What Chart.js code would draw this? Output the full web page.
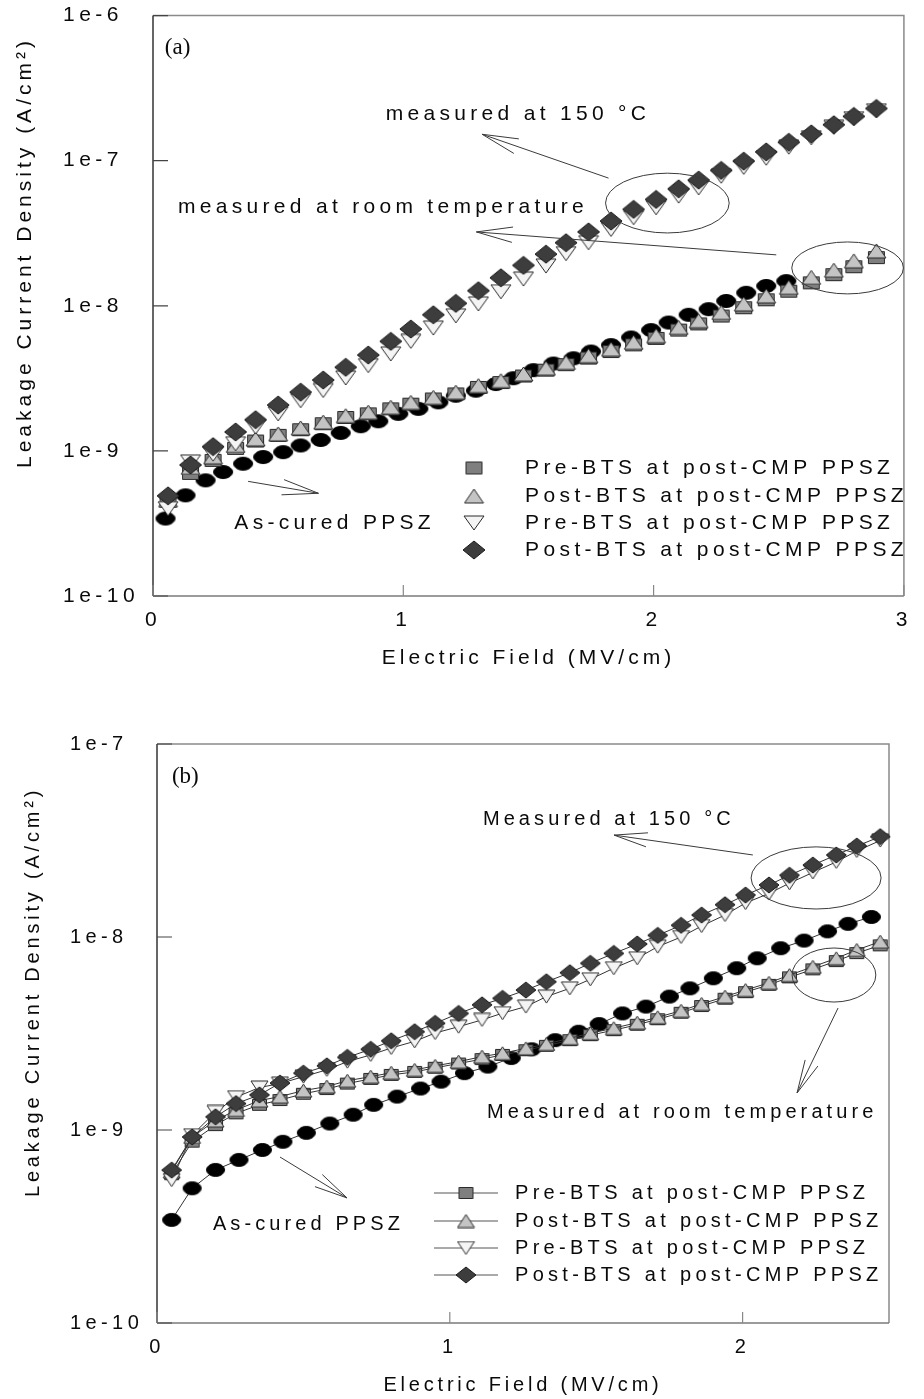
<!DOCTYPE html>
<html>
<head>
<meta charset="utf-8">
<script src="https://cdn.jsdelivr.net/npm/chart.js@4.4.1/dist/chart.umd.min.js"></script>
<style>
  html, body { margin: 0; padding: 0; background: #fff; }
  canvas { display: block; }
</style>
</head>
<body>
<canvas id="chartA" width="924" height="690"></canvas>
<canvas id="chartB" width="924" height="709"></canvas>
<script>
// ---------- panel (a): markers only ----------
const fieldA = [0.06, 0.15, 0.24, 0.33, 0.41, 0.50, 0.59, 0.68, 0.77, 0.86, 0.95, 1.03, 1.12, 1.21, 1.30, 1.39, 1.48,
                1.57, 1.65, 1.74, 1.83, 1.92, 2.01, 2.10, 2.18, 2.27, 2.36, 2.45, 2.54, 2.63, 2.72, 2.80, 2.89];
const fieldCuredA = [0.05, 0.13, 0.21, 0.28, 0.36, 0.44, 0.52, 0.59, 0.67, 0.75, 0.83, 0.90, 0.98, 1.06, 1.14, 1.21, 1.29,
                     1.37, 1.44, 1.52, 1.60, 1.68, 1.75, 1.83, 1.91, 1.99, 2.06, 2.14, 2.22, 2.29, 2.37, 2.45, 2.53];
const preRoomA = [4.5e-10, 7.0e-10, 8.6e-10, 1.04e-9, 1.17e-9, 1.28e-9, 1.40e-9, 1.54e-9, 1.70e-9, 1.80e-9, 1.95e-9,
                  2.10e-9, 2.28e-9, 2.47e-9, 2.74e-9, 2.96e-9, 3.28e-9, 3.60e-9, 3.93e-9, 4.36e-9, 4.84e-9, 5.38e-9,
                  5.96e-9, 6.8e-9, 7.5e-9, 8.5e-9, 9.7e-9, 1.10e-8, 1.26e-8, 1.44e-8, 1.64e-8, 1.86e-8, 2.15e-8];
const postRoomA = [4.6e-10, 7.7e-10, 9.1e-10, 1.09e-9, 1.21e-9, 1.31e-9, 1.44e-9, 1.58e-9, 1.75e-9, 1.85e-9, 2.0e-9,
                   2.16e-9, 2.34e-9, 2.54e-9, 2.82e-9, 3.05e-9, 3.39e-9, 3.72e-9, 4.07e-9, 4.53e-9, 5.03e-9, 5.60e-9,
                   6.22e-9, 7.1e-9, 7.89e-9, 9.0e-9, 1.03e-8, 1.17e-8, 1.34e-8, 1.57e-8, 1.76e-8, 2.04e-8, 2.39e-8];
const pre150A = [4.0e-10, 8.4e-10, 9.5e-10, 1.12e-9, 1.46e-9, 1.80e-9, 2.22e-9, 2.61e-9, 3.18e-9, 3.87e-9, 4.66e-9,
                 5.69e-9, 7.03e-9, 8.53e-9, 1.03e-8, 1.25e-8, 1.53e-8, 1.88e-8, 2.29e-8, 2.72e-8, 3.36e-8, 4.05e-8,
                 4.74e-8, 5.70e-8, 6.50e-8, 7.82e-8, 9.0e-8, 1.04e-7, 1.24e-7, 1.44e-7, 1.70e-7, 1.95e-7, 2.21e-7];
const post150A = [4.9e-10, 8.0e-10, 1.07e-9, 1.35e-9, 1.64e-9, 2.07e-9, 2.54e-9, 3.08e-9, 3.77e-9, 4.58e-9, 5.69e-9,
                  6.92e-9, 8.67e-9, 1.04e-8, 1.27e-8, 1.56e-8, 1.90e-8, 2.27e-8, 2.72e-8, 3.23e-8, 3.84e-8, 4.62e-8,
                  5.41e-8, 6.40e-8, 7.35e-8, 8.57e-8, 9.93e-8, 1.15e-7, 1.34e-7, 1.53e-7, 1.77e-7, 2.02e-7, 2.29e-7];
const curedA = [3.42e-10, 4.94e-10, 6.27e-10, 7.15e-10, 8.16e-10, 9.07e-10, 9.8e-10, 1.09e-9, 1.19e-9, 1.33e-9, 1.48e-9,
                1.60e-9, 1.80e-9, 1.95e-9, 2.16e-9, 2.40e-9, 2.60e-9, 2.89e-9, 3.17e-9, 3.6e-9, 4.0e-9, 4.35e-9,
                4.84e-9, 5.36e-9, 6.05e-9, 6.8e-9, 7.67e-9, 8.67e-9, 9.48e-9, 1.08e-8, 1.23e-8, 1.37e-8, 1.48e-8];

// ---------- panel (b): markers with lines ----------
const fieldB = [0.05, 0.12, 0.20, 0.27, 0.35, 0.42, 0.50, 0.58, 0.65, 0.73, 0.80, 0.88, 0.95, 1.03, 1.11, 1.18, 1.26,
                1.33, 1.41, 1.48, 1.56, 1.64, 1.71, 1.79, 1.86, 1.94, 2.01, 2.09, 2.16, 2.24, 2.32, 2.39, 2.47];
const fieldCuredB = [0.05, 0.12, 0.20, 0.28, 0.36, 0.43, 0.51, 0.59, 0.67, 0.74, 0.82, 0.90, 0.97, 1.05, 1.13, 1.21,
                     1.28, 1.36, 1.44, 1.51, 1.59, 1.67, 1.75, 1.82, 1.90, 1.98, 2.05, 2.13, 2.21, 2.29, 2.36, 2.44];
const preRoomB = [5.9e-10, 8.7e-10, 1.06e-9, 1.22e-9, 1.35e-9, 1.43e-9, 1.54e-9, 1.63e-9, 1.74e-9, 1.84e-9, 1.93e-9,
                  2.00e-9, 2.10e-9, 2.21e-9, 2.33e-9, 2.45e-9, 2.59e-9, 2.73e-9, 2.92e-9, 3.10e-9, 3.29e-9, 3.51e-9,
                  3.75e-9, 4.05e-9, 4.39e-9, 4.79e-9, 5.18e-9, 5.65e-9, 6.18e-9, 6.80e-9, 7.50e-9, 8.25e-9, 9.05e-9];
const postRoomB = [6.1e-10, 9.2e-10, 1.12e-9, 1.27e-9, 1.42e-9, 1.49e-9, 1.60e-9, 1.68e-9, 1.80e-9, 1.89e-9, 1.98e-9,
                   2.05e-9, 2.15e-9, 2.26e-9, 2.40e-9, 2.50e-9, 2.65e-9, 2.79e-9, 2.99e-9, 3.17e-9, 3.37e-9, 3.60e-9,
                   3.84e-9, 4.15e-9, 4.50e-9, 4.91e-9, 5.31e-9, 5.79e-9, 6.35e-9, 7.01e-9, 7.76e-9, 8.57e-9, 9.46e-9];
const pre150B = [5.5e-10, 9.4e-10, 1.24e-9, 1.48e-9, 1.66e-9, 1.74e-9, 1.89e-9, 2.05e-9, 2.26e-9, 2.45e-9, 2.66e-9,
                 2.88e-9, 3.18e-9, 3.43e-9, 3.72e-9, 4.03e-9, 4.36e-9, 4.91e-9, 5.42e-9, 6.04e-9, 6.89e-9, 7.76e-9,
                 8.91e-9, 1.00e-8, 1.14e-8, 1.30e-8, 1.50e-8, 1.68e-8, 1.90e-8, 2.16e-8, 2.45e-8, 2.79e-8, 3.16e-8];
const post150B = [6.2e-10, 9.2e-10, 1.17e-9, 1.37e-9, 1.52e-9, 1.75e-9, 1.97e-9, 2.15e-9, 2.38e-9, 2.62e-9, 2.90e-9,
                  3.23e-9, 3.57e-9, 4.02e-9, 4.45e-9, 4.81e-9, 5.31e-9, 5.86e-9, 6.53e-9, 7.31e-9, 8.22e-9, 9.2e-9,
                  1.02e-8, 1.15e-8, 1.30e-8, 1.47e-8, 1.65e-8, 1.86e-8, 2.09e-8, 2.36e-8, 2.66e-8, 2.96e-8, 3.31e-8];
const curedB = [3.42e-10, 4.99e-10, 6.21e-10, 7.0e-10, 7.88e-10, 8.69e-10, 9.67e-10, 1.08e-9, 1.20e-9, 1.35e-9, 1.49e-9,
                1.64e-9, 1.78e-9, 1.97e-9, 2.13e-9, 2.36e-9, 2.62e-9, 2.92e-9, 3.23e-9, 3.54e-9, 4.02e-9, 4.36e-9,
                4.91e-9, 5.42e-9, 6.11e-9, 6.89e-9, 7.76e-9, 8.75e-9, 9.58e-9, 1.07e-8, 1.17e-8, 1.27e-8];

const seriesLabels = ['Pre-BTS at post-CMP PPSZ', 'Post-BTS at post-CMP PPSZ',
                      'Pre-BTS at post-CMP PPSZ', 'Post-BTS at post-CMP PPSZ', 'As-cured PPSZ'];

const yTicksA = [1e-10, 1e-9, 1e-8, 1e-7, 1e-6];
const yTickLabelsA = ['1e-10', '1e-9', '1e-8', '1e-7', '1e-6'];
const xTicksA = [0, 1, 2, 3];
const yTicksB = [1e-10, 1e-9, 1e-8, 1e-7];
const yTickLabelsB = ['1e-10', '1e-9', '1e-8', '1e-7'];
const xTicksB = [0, 1, 2];

const SANS = '"Liberation Sans", Arial, sans-serif';
const SERIF = '"Liberation Serif", "Times New Roman", serif';
const INK = '#0a0a0a';

// small canvases used as point styles (markers in the source are a bit wider than tall)
function marker(shape, w, h, fill, stroke) {
    const c = document.createElement('canvas');
    c.width = w + 2;
    c.height = h + 2;
    const g = c.getContext('2d');
    const cx = c.width / 2, cy = c.height / 2;
    g.fillStyle = fill;
    g.strokeStyle = stroke;
    g.lineWidth = 1;
    g.beginPath();
    if (shape === 'square') g.rect(1.5, 1.5, w - 1, h - 1);
    else if (shape === 'circle') g.ellipse(cx, cy, w / 2 - 0.5, h / 2 - 0.5, 0, 0, Math.PI * 2);
    else if (shape === 'up') { g.moveTo(cx, 1); g.lineTo(w + 1, h + 1); g.lineTo(1, h + 1); g.closePath(); }
    else if (shape === 'down') { g.moveTo(1, 1); g.lineTo(w + 1, 1); g.lineTo(cx, h + 1); g.closePath(); }
    else if (shape === 'diamond') { g.moveTo(cx, 1); g.lineTo(w + 1, cy); g.lineTo(cx, h + 1); g.lineTo(1, cy); g.closePath(); }
    g.fill();
    g.stroke();
    return c;
}

function markerSet(s) {
    return [
        marker('square', s.sq[0], s.sq[1], '#7f7f7f', '#2a2a2a'),
        marker('up', s.up[0], s.up[1], '#c4c4c4', '#2a2a2a'),
        marker('down', s.down[0], s.down[1], '#f4f4f4', '#2a2a2a'),
        marker('diamond', s.dia[0], s.dia[1], '#3d3d3d', '#1a1a1a'),
        marker('circle', s.circ[0], s.circ[1], '#000000', '#000000')
    ];
}

function drawArrow(ctx, x0, y0, x1, y1, len) {
    const ang = Math.atan2(y0 - y1, x0 - x1);
    const spread = 12 * Math.PI / 180;
    ctx.beginPath();
    ctx.moveTo(x0, y0);
    ctx.lineTo(x1, y1);
    ctx.moveTo(x1 + len * Math.cos(ang - spread), y1 + len * Math.sin(ang - spread));
    ctx.lineTo(x1, y1);
    ctx.lineTo(x1 + len * Math.cos(ang + spread), y1 + len * Math.sin(ang + spread));
    ctx.stroke();
}

function panelPlugin(cfg) {
    const sp = cfg.spacing;
    return {
        id: 'panel' + cfg.name,
        beforeUpdate(chart) { chart.ctx.letterSpacing = sp.ticks + 'px'; },
        beforeLayout(chart) { chart.ctx.letterSpacing = sp.ticks + 'px'; },
        beforeDraw(chart) { chart.ctx.letterSpacing = sp.ticks + 'px'; },
        beforeDatasetsDraw(chart) {
            const { ctx, chartArea: a, scales: { x, y } } = chart;
            ctx.save();
            ctx.lineWidth = 1.5;
            ctx.strokeStyle = '#8a8a8a';
            ctx.beginPath();
            ctx.moveTo(a.left, a.top); ctx.lineTo(a.right, a.top); ctx.lineTo(a.right, a.bottom);
            ctx.stroke();
            ctx.strokeStyle = '#7a7a7a';
            ctx.beginPath(); ctx.moveTo(a.left, a.bottom); ctx.lineTo(a.right, a.bottom); ctx.stroke();
            ctx.strokeStyle = '#333';
            ctx.beginPath(); ctx.moveTo(a.left, a.top); ctx.lineTo(a.left, a.bottom); ctx.stroke();
            // inward tick marks
            ctx.lineWidth = 1.2;
            ctx.strokeStyle = '#444';
            ctx.beginPath();
            y.ticks.forEach(t => {
                const py = y.getPixelForValue(t.value);
                ctx.moveTo(a.left, py); ctx.lineTo(a.left + 15, py);
            });
            ctx.stroke();
            ctx.strokeStyle = '#888';
            ctx.beginPath();
            x.ticks.forEach(t => {
                const px = x.getPixelForValue(t.value);
                ctx.moveTo(px, a.bottom); ctx.lineTo(px, a.bottom - 11);
            });
            ctx.stroke();
            ctx.restore();
        },
        afterDatasetsDraw(chart) {
            const { ctx, scales: { x, y } } = chart;
            const X = v => x.getPixelForValue(v);
            const Y = e => y.getPixelForValue(Math.pow(10, e));
            ctx.save();
            ctx.strokeStyle = '#3a3a3a';
            ctx.lineWidth = 1;
            cfg.ellipses.forEach(el => {
                const cx = X(el.x), cy = Y(el.decade);
                ctx.beginPath();
                ctx.ellipse(cx, cy, X(el.x + el.rx) - cx, cy - Y(el.decade + el.ry), 0, 0, Math.PI * 2);
                ctx.stroke();
            });
            cfg.arrows.forEach(ar => drawArrow(ctx, X(ar.from[0]), Y(ar.from[1]), X(ar.to[0]), Y(ar.to[1]), cfg.headLen));
            ctx.fillStyle = INK;
            ctx.textAlign = 'left';
            ctx.textBaseline = 'middle';
            ctx.font = cfg.fontSize + 'px ' + SANS;
            ctx.letterSpacing = sp.notes + 'px';
            cfg.notes.forEach(n => ctx.fillText(n.text, X(n.x), Y(n.decade)));
            ctx.letterSpacing = '0px';
            ctx.font = '23px ' + SERIF;
            ctx.fillText(cfg.tag.text, X(cfg.tag.x), Y(cfg.tag.decade));
            ctx.restore();
        },
        afterDraw(chart) {
            const { ctx, chartArea: a } = chart;
            const lg = cfg.legend;
            ctx.save();
            ctx.font = cfg.fontSize + 'px ' + SANS;
            ctx.fillStyle = INK;
            ctx.textBaseline = 'middle';
            ctx.letterSpacing = sp.legend + 'px';
            lg.rows.forEach((dy, i) => {
                const ds = chart.data.datasets[i];
                const py = a.bottom + dy;
                if (lg.line) {
                    ctx.strokeStyle = '#555';
                    ctx.lineWidth = 1;
                    ctx.beginPath();
                    ctx.moveTo(a.left + lg.line[0], py); ctx.lineTo(a.left + lg.line[1], py);
                    ctx.stroke();
                }
                const img = ds.pointStyle;
                ctx.drawImage(img, a.left + lg.markerX - img.width / 2, py - img.height / 2);
                ctx.textAlign = 'left';
                ctx.fillText(ds.label, a.left + lg.textX, py);
            });
            // axis titles
            ctx.letterSpacing = sp.titles + 'px';
            ctx.textAlign = 'center';
            ctx.fillText(chart.options.scales.x.title.text, (a.left + a.right) / 2, a.bottom + cfg.xTitleDY);
            ctx.save();
            ctx.translate(cfg.yTitleX, a.bottom + cfg.yTitleDY);
            ctx.rotate(-Math.PI / 2);
            ctx.textAlign = 'left';
            ctx.fillText(chart.options.scales.y.title.text, 0, 0);
            ctx.restore();
            ctx.restore();
        }
    };
}

function buildChart(id, cfg) {
    const markers = markerSet(cfg.markers);
    const order = [4, 3, 2, 1, 5];   // diamonds on top, circles at the bottom
    const datasets = cfg.series.map((s, i) => ({
        label: seriesLabels[i],
        data: s.x.map((v, j) => ({ x: v, y: s.y[j] })),
        showLine: cfg.lines,
        borderColor: '#333',
        borderWidth: 1,
        pointStyle: markers[i],
        pointRadius: 11,
        pointHoverRadius: 11,
        order: order[i],
        clip: false
    }));
    const tickFont = { family: SANS, size: cfg.fontSize };
    return new Chart(document.getElementById(id), {
        type: 'scatter',
        data: { datasets },
        options: {
            responsive: false,
            animation: false,
            events: [],
            layout: { padding: { left: cfg.padLeft, top: cfg.padTop, right: cfg.padRight, bottom: 0 } },
            plugins: { legend: { display: false }, tooltip: { enabled: false } },
            scales: {
                x: {
                    type: 'linear', min: 0, max: cfg.xMax,
                    grid: { display: false, drawTicks: false },
                    border: { display: false },
                    title: { display: false, text: 'Electric Field (MV/cm)' },
                    afterBuildTicks: s => { s.ticks = cfg.xTicks.map(v => ({ value: v })); },
                    afterFit: s => { s.height = cfg.xHeight; },
                    ticks: { padding: 12, color: INK, font: tickFont, autoSkip: false, maxRotation: 0,
                             callback: v => String(v) }
                },
                y: {
                    type: 'logarithmic', min: cfg.yTicks[0], max: cfg.yTicks[cfg.yTicks.length - 1],
                    grid: { display: false, drawTicks: false },
                    border: { display: false },
                    title: { display: false, text: 'Leakage Current Density (A/cm²)' },
                    afterBuildTicks: s => { s.ticks = cfg.yTicks.map(v => ({ value: v })); },
                    afterFit: s => { s.width = cfg.yWidth; },
                    ticks: {
                        crossAlign: 'far', color: INK, font: tickFont, autoSkip: false,
                        callback: v => {
                            const k = cfg.yTicks.findIndex(t => Math.abs(Math.log10(t) - Math.log10(v)) < 1e-6);
                            return k >= 0 ? cfg.yLabels[k] : '';
                        }
                    }
                }
            }
        },
        plugins: [panelPlugin(cfg)]
    });
}

buildChart('chartA', {
    name: 'A', lines: false, fontSize: 21,
    spacing: { ticks: 4.5, legend: 4.4, notes: 4.3, titles: 4.0 },
    padLeft: 63, yWidth: 90, padTop: 14, padRight: 4, xHeight: 94,
    xMax: 3, xTicks: xTicksA, yTicks: yTicksA, yLabels: yTickLabelsA,
    series: [
        { x: fieldA, y: preRoomA }, { x: fieldA, y: postRoomA },
        { x: fieldA, y: pre150A }, { x: fieldA, y: post150A },
        { x: fieldCuredA, y: curedA }
    ],
    markers: { sq: [17, 13], up: [19, 14], down: [20, 14], dia: [22, 18], circ: [20, 14] },
    tag: { text: '(a)', x: 0.047, decade: -6.22 },
    notes: [
        { text: 'measured at 150 °C', x: 0.93, decade: -6.68 },
        { text: 'measured at room temperature', x: 0.10, decade: -7.32 },
        { text: 'As-cured PPSZ', x: 0.325, decade: -9.50 }
    ],
    arrows: [
        { from: [1.82, -7.12], to: [1.315, -6.818] },
        { from: [2.49, -7.649], to: [1.292, -7.491] },
        { from: [0.38, -9.21], to: [0.661, -9.292] }
    ],
    ellipses: [
        { x: 2.055, decade: -7.292, rx: 0.247, ry: 0.206 },
        { x: 2.775, decade: -7.739, rx: 0.223, ry: 0.179 }
    ],
    headLen: 37,
    legend: { markerX: 321, textX: 372, rows: [-128, -100, -73, -46], line: null },
    xTitleDY: 62, yTitleX: 25, yTitleDY: -128
});

buildChart('chartB', {
    name: 'B', lines: true, fontSize: 20,
    spacing: { ticks: 4.4, legend: 4.3, notes: 4.1, titles: 3.8 },
    padLeft: 70, yWidth: 87, padTop: 54, padRight: 35, xHeight: 76,
    xMax: 2.5, xTicks: xTicksB, yTicks: yTicksB, yLabels: yTickLabelsB,
    series: [
        { x: fieldB, y: preRoomB }, { x: fieldB, y: postRoomB },
        { x: fieldB, y: pre150B }, { x: fieldB, y: post150B },
        { x: fieldCuredB, y: curedB }
    ],
    markers: { sq: [15, 12], up: [17, 13], down: [17, 13], dia: [20, 16], circ: [19, 14] },
    tag: { text: '(b)', x: 0.051, decade: -7.171 },
    notes: [
        { text: 'Measured at 150 °C', x: 1.113, decade: -7.389 },
        { text: 'Measured at room temperature', x: 1.127, decade: -8.907 },
        { text: 'As-cured PPSZ', x: 0.191, decade: -9.492 }
    ],
    arrows: [
        { from: [2.035, -7.575], to: [1.561, -7.472] },
        { from: [2.326, -8.368], to: [2.186, -8.808] },
        { from: [0.420, -9.140], to: [0.649, -9.352] }
    ],
    ellipses: [
        { x: 2.251, decade: -7.694, rx: 0.222, ry: 0.161 },
        { x: 2.312, decade: -8.197, rx: 0.143, ry: 0.140 }
    ],
    headLen: 34,
    legend: { markerX: 309, line: [277, 341], textX: 358, rows: [-130, -102, -75, -48] },
    xTitleDY: 62, yTitleX: 33, yTitleDY: -126
});
</script>
</body>
</html>
